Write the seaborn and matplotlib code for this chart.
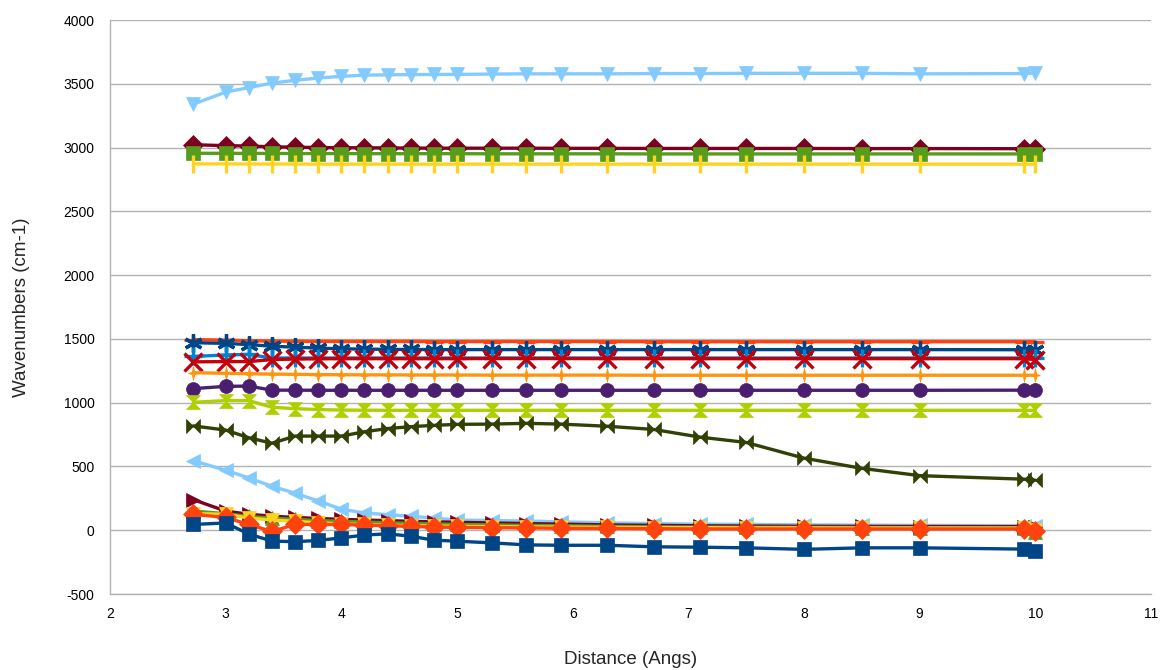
import matplotlib
matplotlib.use("Agg")
import matplotlib.pyplot as plt
from matplotlib.path import Path
import numpy as np
import pandas as pd
import seaborn as sns

# ---------------- data ----------------
distance = [2.72, 3.0, 3.2, 3.4, 3.6, 3.8, 4.0, 4.2, 4.4, 4.6, 4.8, 5.0,
            5.3, 5.6, 5.9, 6.3, 6.7, 7.1, 7.5, 8.0, 8.5, 9.0, 9.9, 10.0]

s00 = [45, 57, -30, -85, -90, -80, -60, -38, -28, -47, -78, -86,
       -99, -115, -118, -118, -130, -133, -138, -150, -138, -138, -148, -162]
s01 = [125, 100, 45, -10, 45, 45, 45, 40, 35, 30, 25, 22,
       20, 18, 15, 14, 12, 10, 10, 10, 10, 10, 10, -5]
s02 = [130, 125, 95, 80, 70, 58, 50, 45, 40, 36, 33, 30,
       28, 26, 24, 22, 20, 20, 18, 18, 17, 17, 16, 5]
s03 = [150, 130, 108, 95, 85, 76, 70, 64, 58, 54, 50, 45,
       42, 38, 35, 30, 27, 25, 23, 22, 21, 20, 20, -15]
s04 = [240, 150, 125, 110, 100, 92, 85, 80, 75, 70, 66, 62,
       57, 52, 48, 42, 38, 35, 33, 31, 30, 29, 28, 25]
s05 = [545, 470, 410, 345, 290, 230, 165, 135, 122, 110, 95, 80,
       76, 72, 66, 58, 52, 48, 46, 42, 40, 38, 36, 32]
s06 = [818, 785, 725, 682, 738, 738, 738, 772, 797, 812, 822, 830,
       832, 838, 832, 815, 790, 730, 688, 565, 485, 428, 400, 392]
s07 = [1003, 1016, 1016, 964, 953, 946, 942, 941, 940, 940, 940, 940,
       940, 940, 940, 940, 940, 940, 940, 940, 940, 940, 940, 940]
s08 = [1110, 1128, 1130, 1098, 1098, 1097, 1097, 1097, 1097, 1097, 1097, 1097,
       1097, 1097, 1097, 1097, 1097, 1097, 1097, 1097, 1097, 1097, 1098, 1100]
s09 = [1235, 1230, 1227, 1224, 1222, 1220, 1219, 1218, 1218, 1217, 1217, 1217,
       1216, 1216, 1216, 1216, 1215, 1215, 1215, 1215, 1215, 1215, 1215, 1215]
s10 = [1320, 1322, 1322, 1338, 1342, 1344, 1345, 1345, 1345, 1345, 1345, 1345,
       1346, 1346, 1346, 1345, 1345, 1345, 1345, 1345, 1345, 1345, 1345, 1338]
s11 = [1362, 1374, 1378, 1350, 1350, 1350, 1350, 1350, 1350, 1350, 1350, 1350,
       1350, 1350, 1350, 1350, 1350, 1350, 1350, 1350, 1350, 1350, 1350, 1352]
s12 = [1470, 1465, 1455, 1443, 1435, 1428, 1422, 1420, 1418, 1417, 1416, 1416,
       1416, 1416, 1416, 1416, 1416, 1416, 1416, 1416, 1416, 1416, 1415, 1410]
s13 = [1495, 1490, 1486, 1483, 1481, 1480, 1480, 1480, 1480, 1480, 1479, 1479,
       1479, 1479, 1479, 1479, 1478, 1478, 1478, 1478, 1478, 1478, 1478, 1478]
s14 = [2872, 2872, 2871, 2871, 2871, 2870, 2870, 2870, 2870, 2870, 2870, 2870,
       2870, 2870, 2870, 2870, 2870, 2870, 2870, 2870, 2870, 2870, 2870, 2870]
s15 = [2955, 2955, 2954, 2954, 2953, 2953, 2953, 2952, 2952, 2952, 2952, 2952,
       2951, 2951, 2951, 2951, 2950, 2950, 2950, 2950, 2950, 2950, 2950, 2950]
s16 = [3022, 3015, 3012, 3006, 3003, 3000, 2999, 2998, 2997, 2996, 2995, 2995,
       2995, 2995, 2994, 2994, 2993, 2993, 2993, 2993, 2992, 2992, 2991, 2991]
s17 = [3340, 3435, 3470, 3505, 3527, 3545, 3558, 3568, 3570, 3572, 3573, 3574,
       3576, 3578, 3578, 3578, 3580, 3580, 3582, 3582, 3582, 3578, 3580, 3584]

series = [s00, s01, s02, s03, s04, s05, s06, s07, s08,
          s09, s10, s11, s12, s13, s14, s15, s16, s17]

x_ticks = [2, 3, 4, 5, 6, 7, 8, 9, 10, 11]
y_ticks = [-500, 0, 500, 1000, 1500, 2000, 2500, 3000, 3500, 4000]

# ---------------- styles ----------------
palette = ["#004586", "#ff420e", "#ffd320", "#579d1c", "#7e0021", "#83caff",
           "#314004", "#aecf00", "#4b1f6f", "#ff950e", "#c5000b", "#0084d1"]

bowtie = Path([(-1, -1), (-1, 1), (0, 0), (1, 1), (1, -1), (0, 0), (-1, -1)],
              [Path.MOVETO] + [Path.LINETO] * 5 + [Path.CLOSEPOLY])
sandglass = Path([(-1, 1), (1, 1), (0, 0), (1, -1), (-1, -1), (0, 0), (-1, 1)],
                 [Path.MOVETO] + [Path.LINETO] * 5 + [Path.CLOSEPOLY])
star4 = Path([(0, 1), (0.18, 0.18), (0.7, 0), (0.18, -0.18), (0, -1),
              (-0.18, -0.18), (-0.7, 0), (-0.18, 0.18), (0, 1)],
             [Path.MOVETO] + [Path.LINETO] * 7 + [Path.CLOSEPOLY])

symbols = ["s", "D", "v", "^", ">", "<", bowtie, sandglass, "o",
           star4, "x", "+", (6, 2, 0), "_", "|"]
line_markers = {"x", "+", "_", "|"}

# ---------------- figure ----------------
sns.set_theme(style="white")
plt.rcParams["font.family"] = ["Liberation Sans", "DejaVu Sans"]

fig = plt.figure(figsize=(11.6, 6.7), dpi=100)
ax = fig.add_axes([110 / 1160, 1 - 594 / 670, (1151 - 110) / 1160, (594 - 20) / 670])

n = len(series)
for i, vals in enumerate(series):
    col = palette[i % len(palette)]
    mk = symbols[i % len(symbols)]
    df = pd.DataFrame({"Distance": distance, "Wavenumber": vals})
    is_line = isinstance(mk, tuple) or (isinstance(mk, str) and mk in line_markers)
    kw = dict(marker=mk, markersize=10, markeredgecolor=col, markerfacecolor=col)
    if is_line:
        kw["markeredgewidth"] = 2.4
        kw["markersize"] = 13
    else:
        kw["markeredgewidth"] = 0.5
    sns.lineplot(data=df, x="Distance", y="Wavenumber", color=col, linewidth=2.4,
                 ax=ax, zorder=3 + (n - i) * 0.1, legend=False, **kw)

ax.set_xlim(2, 11)
ax.set_ylim(-500, 4000)
ax.set_xticks(x_ticks)
ax.set_yticks(y_ticks)
ax.set_xticklabels([str(t) for t in x_ticks])
ax.set_yticklabels([str(t) for t in y_ticks])
ax.yaxis.grid(True, color="#b3b3b3", linewidth=1)
ax.xaxis.grid(False)
ax.set_axisbelow(True)
for side in ["top", "right"]:
    ax.spines[side].set_visible(False)
for side in ["left", "bottom"]:
    ax.spines[side].set_color("#b3b3b3")
    ax.spines[side].set_linewidth(1)
ax.tick_params(axis="both", which="major", length=5, width=1, color="#b3b3b3",
               labelsize=10, labelcolor="black", direction="out")
ax.tick_params(axis="y", pad=6)
ax.tick_params(axis="x", pad=4)

ax.set_xlabel("Distance (Angs)", fontsize=13.5, labelpad=22)
ax.set_ylabel("Wavenumbers (cm-1)", fontsize=13.5, labelpad=24)

fig.savefig("out.png", dpi=100)
